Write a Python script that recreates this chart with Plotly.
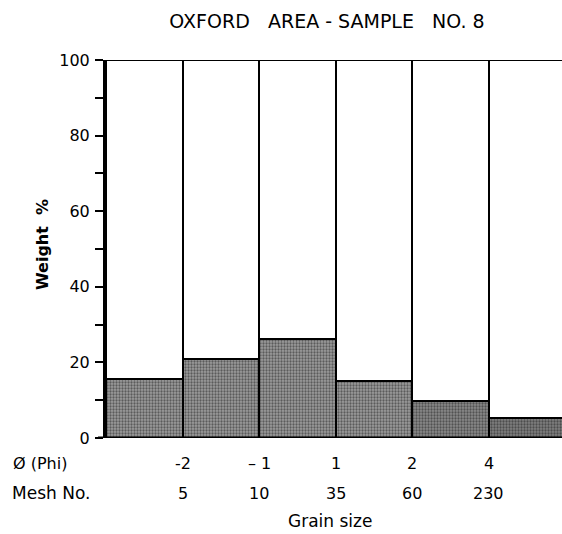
import plotly.graph_objects as go

# Grain-size classes (bin index 0..5) and their weight percentages
bin_centers = [0.5, 1.5, 2.5, 3.5, 4.5, 5.5]
weight_pct = [15.6, 20.9, 26.3, 15.0, 9.8, 5.2]
full_scale = [100, 100, 100, 100, 100, 100]

# Class boundaries with phi and sieve mesh numbers
boundary_pos = [1, 2, 3, 4, 5]
phi_labels = ["-2", "\u2013 1", "1", "2", "4"]
mesh_labels = ["5", "10", "35", "60", "230"]

# Stipple shading per bar (finer grains drawn darker)
stipple_bg = ["#9c9c9c", "#9c9c9c", "#9c9c9c", "#9c9c9c", "#8a8a8a", "#808080"]

FONT = "DejaVu Sans"

fig = go.Figure()

# White outline column for each class, 0-100 %
fig.add_trace(go.Bar(
    x=bin_centers, y=full_scale, width=1.0,
    marker=dict(color="white", line=dict(color="black", width=2)),
    hoverinfo="skip", showlegend=False,
))

# Stippled weight portion
fig.add_trace(go.Bar(
    x=bin_centers, y=weight_pct, width=1.0,
    marker=dict(
        color="#9c9c9c",
        line=dict(color="black", width=2),
        pattern=dict(shape=".", fgcolor="#1a1a1a", bgcolor=stipple_bg,
                     size=3, solidity=0.45),
    ),
    showlegend=False,
))

L, R, T, B = 106, 0, 60, 96
W, H = 562, 534
plot_w = W - L - R
plot_h = H - T - B
x_range = [0, plot_w / 76.5]

def px_x(px):
    return (px - L) / plot_w

annotations = []
for pos, p, m in zip(boundary_pos, phi_labels, mesh_labels):
    annotations.append(dict(x=pos, y=0, xref="x", yref="paper", text=p,
                            showarrow=False, yshift=-25, yanchor="middle",
                            font=dict(family=FONT, size=16, color="black")))
    annotations.append(dict(x=pos, y=0, xref="x", yref="paper", text=m,
                            showarrow=False, yshift=-55, yanchor="middle",
                            font=dict(family=FONT, size=16, color="black")))

annotations += [
    dict(x=px_x(11), y=0, xref="paper", yref="paper", text="\u00d8 (Phi)",
         showarrow=False, xanchor="left", yanchor="middle", yshift=-25,
         font=dict(family=FONT, size=16, color="black")),
    dict(x=px_x(10), y=0, xref="paper", yref="paper", text="Mesh No.",
         showarrow=False, xanchor="left", yanchor="middle", yshift=-55,
         font=dict(family=FONT, size=17, color="black")),
    dict(x=px_x(330), y=0, xref="paper", yref="paper", text="Grain size",
         showarrow=False, xanchor="center", yanchor="middle", yshift=-83,
         font=dict(family=FONT, size=17, color="black")),
    dict(x=px_x(42), y=(438 - 245) / plot_h, xref="paper", yref="paper",
         text="<b>Weight  %</b>", showarrow=False, textangle=-90,
         xanchor="center", yanchor="middle",
         font=dict(family=FONT, size=16, color="black")),
]

fig.update_layout(
    width=W, height=H,
    margin=dict(l=L, r=R, t=T, b=B),
    paper_bgcolor="white", plot_bgcolor="white",
    barmode="overlay", bargap=0,
    title=dict(text="OXFORD   AREA - SAMPLE   NO. 8", x=327 / W, xanchor="center",
               y=1 - 21 / H, yanchor="middle",
               font=dict(family=FONT, size=19, color="black")),
    xaxis=dict(range=x_range, showgrid=False, zeroline=False, showticklabels=False,
               ticks="", showline=False, fixedrange=True),
    yaxis=dict(range=[0, 100], tickvals=[0, 20, 40, 60, 80, 100],
               ticks="outside", ticklen=8, tickwidth=2, tickcolor="black",
               minor=dict(dtick=10, ticks="outside", ticklen=8, tickwidth=2,
                          tickcolor="black", showgrid=False),
               showgrid=False, zeroline=False, showline=True, linecolor="black",
               linewidth=3, tickfont=dict(family=FONT, size=16, color="black"),
               ticklabelstandoff=2),
    annotations=annotations,
    font=dict(family=FONT, color="black"),
)

# Baseline along 0 %
fig.add_shape(type="line", xref="paper", yref="y", x0=-8 / plot_w, x1=1, y0=0, y1=0,
              line=dict(color="black", width=3))

fig.write_html("out.html")
